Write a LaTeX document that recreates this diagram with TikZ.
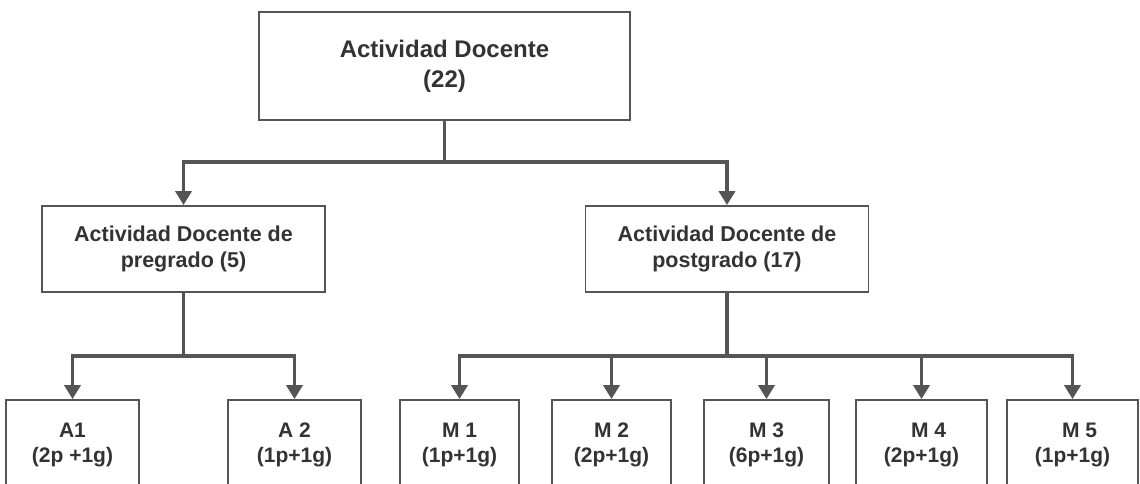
\documentclass[tikz,border=0pt]{standalone}
\usepackage{fontspec}
\setmainfont{Liberation Sans}
\usetikzlibrary{arrows.meta}
\definecolor{linegray}{HTML}{555555}
\definecolor{textgray}{HTML}{333333}
\begin{document}
\begin{tikzpicture}[x=1pt,y=-1pt,
  box/.style={draw=linegray, line width=1.8pt, fill=white, align=center, text=textgray, font=\bfseries, inner sep=0pt},
  topfont/.style={font=\fontsize{24}{30}\selectfont\bfseries},
  midfont/.style={font=\fontsize{21.5}{26}\selectfont\bfseries},
  lowfont/.style={font=\fontsize{21}{25}\selectfont\bfseries},
  conn/.style={draw=linegray, line width=3.5pt},
  arr/.style={conn, -{Triangle[width=16pt,length=14pt]}}]
\useasboundingbox (0,0) rectangle (1140,483);
\clip (0,0) rectangle (1140,483);
\fill[white] (0,0) rectangle (1140,483);
% nodes
\node[box, topfont, minimum width=371pt, minimum height=108pt] (top) at (444.5,66) {Actividad Docente\\(22)};
\node[box, midfont, minimum width=283pt, minimum height=86pt] (pre) at (183.5,249) {Actividad Docente de\\pregrado (5)};
\node[box, midfont, minimum width=283pt, minimum height=86pt] (post) at (727,249) {Actividad Docente de\\postgrado (17)};
\node[box, lowfont, minimum width=133pt, minimum height=89pt] (a1) at (72.5,444.5) {A1\\(2p +1g)};
\node[box, lowfont, minimum width=133pt, minimum height=89pt] (a2) at (294.5,444.5) {A 2\\(1p+1g)};
\node[box, lowfont, minimum width=119pt, minimum height=89pt] (m1) at (459.5,444.5) {M 1\\(1p+1g)};
\node[box, lowfont, minimum width=119pt, minimum height=89pt] (m2) at (611.5,444.5) {M 2\\(2p+1g)};
\node[box, lowfont, minimum width=125pt, minimum height=89pt] (m3) at (766.5,444.5) {M 3\\(6p+1g)};
\node[box, lowfont, minimum width=131pt, minimum height=89pt] (m4) at (921.5,444.5) {\hspace*{14pt}M 4\\(2p+1g)};
\node[box, lowfont, minimum width=131pt, minimum height=89pt] (m5) at (1072.5,444.5) {\hspace*{14pt}M 5\\(1p+1g)};
% junctions
\coordinate (j0) at (444.5,162);
\coordinate (j1) at (183.5,356);
\coordinate (j2) at (727,356);
% connectors
\draw[conn] (top.south) -- (j0);
\draw[arr] (j0) -| (pre.north);
\draw[arr] (j0) -| (post.north);
\draw[conn] (pre.south) -- (j1);
\draw[arr] (j1) -| (a1.north);
\draw[arr] (j1) -| (a2.north);
\draw[conn] (post.south) -- (j2);
\draw[arr] (j2) -| (m1.north);
\draw[arr] (j2) -| (m2.north);
\draw[arr] (j2) -| (m3.north);
\draw[arr] (j2) -| (m4.north);
\draw[arr] (j2) -| (m5.north);
\end{tikzpicture}
\end{document}
